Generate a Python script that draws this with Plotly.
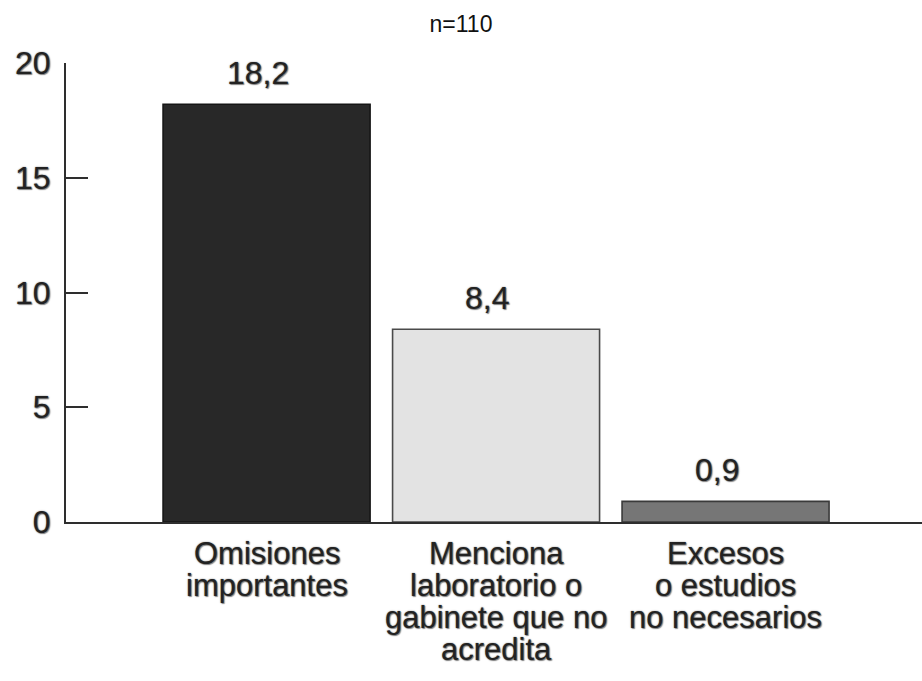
import plotly.graph_objects as go

# Data
categories = ["Omisiones<br>importantes",
              "Menciona<br>laboratorio o<br>gabinete que no<br>acredita",
              "Excesos<br>o estudios<br>no necesarios"]
values = [18.2, 8.4, 0.9]
bar_colors = ["#282828", "#e3e3e3", "#767676"]
edge_colors = ["#151515", "#4a4a4a", "#3a3a3a"]
y_ticks = [0, 5, 10, 15, 20]
title_text = "n=110"

FONT = "Liberation Sans, Arial, Helvetica, sans-serif"
SHADOW = "0px 0px 1.5px #6a6a6a, 1px 1px 1px #8a8a8a"
INK = "#222222"

fig = go.Figure()
fig.add_trace(go.Bar(
    x=categories,
    y=values,
    width=0.902,
    marker=dict(color=bar_colors, line=dict(color=edge_colors, width=1.6)),
    hoverinfo="skip",
))

# value labels above each bar
for cat, v in zip(categories, values):
    fig.add_annotation(
        x=cat, y=v, xref="x", yref="y",
        text=f"{v:.1f}".replace(".", ","),
        showarrow=False, yanchor="bottom", xanchor="center",
        yshift=11, xshift=-9,
        font=dict(family=FONT, size=32, color=INK, shadow=SHADOW),
    )

# multi-line category labels under the axis, with tight line spacing
for cat in categories:
    for i, line in enumerate(cat.split("<br>")):
        fig.add_annotation(
            x=cat, y=0, xref="x", yref="y",
            text=line, showarrow=False,
            xanchor="center", yanchor="middle",
            yshift=-31 - 32.3 * i,
            font=dict(family=FONT, size=31, color=INK, shadow=SHADOW),
        )

fig.update_layout(
    width=922, height=681,
    margin=dict(l=66, r=0, t=63, b=159),
    paper_bgcolor="white", plot_bgcolor="white",
    showlegend=False,
    title=dict(
        text=title_text, xref="container", x=0.5, xanchor="center",
        yref="container", y=1 - 24 / 681, yanchor="middle",
        font=dict(family=FONT, size=23, color="#111111"),
    ),
)

fig.update_xaxes(
    type="category",
    range=[-0.874, 2.856],
    showticklabels=False,
    ticks="",
    showgrid=False, zeroline=False,
    showline=True, linecolor="#2e2e2e", linewidth=2,
    fixedrange=True,
)
fig.update_yaxes(
    range=[0, 20],
    tickvals=y_ticks,
    ticktext=[str(t) for t in y_ticks],
    ticks="inside", ticklen=22, tickwidth=2, tickcolor="#2e2e2e",
    ticklabelstandoff=7,
    tickfont=dict(family=FONT, size=32, color=INK, shadow=SHADOW),
    showgrid=False, zeroline=False,
    showline=True, linecolor="#2e2e2e", linewidth=2,
    fixedrange=True,
)

fig.write_html("out.html")
